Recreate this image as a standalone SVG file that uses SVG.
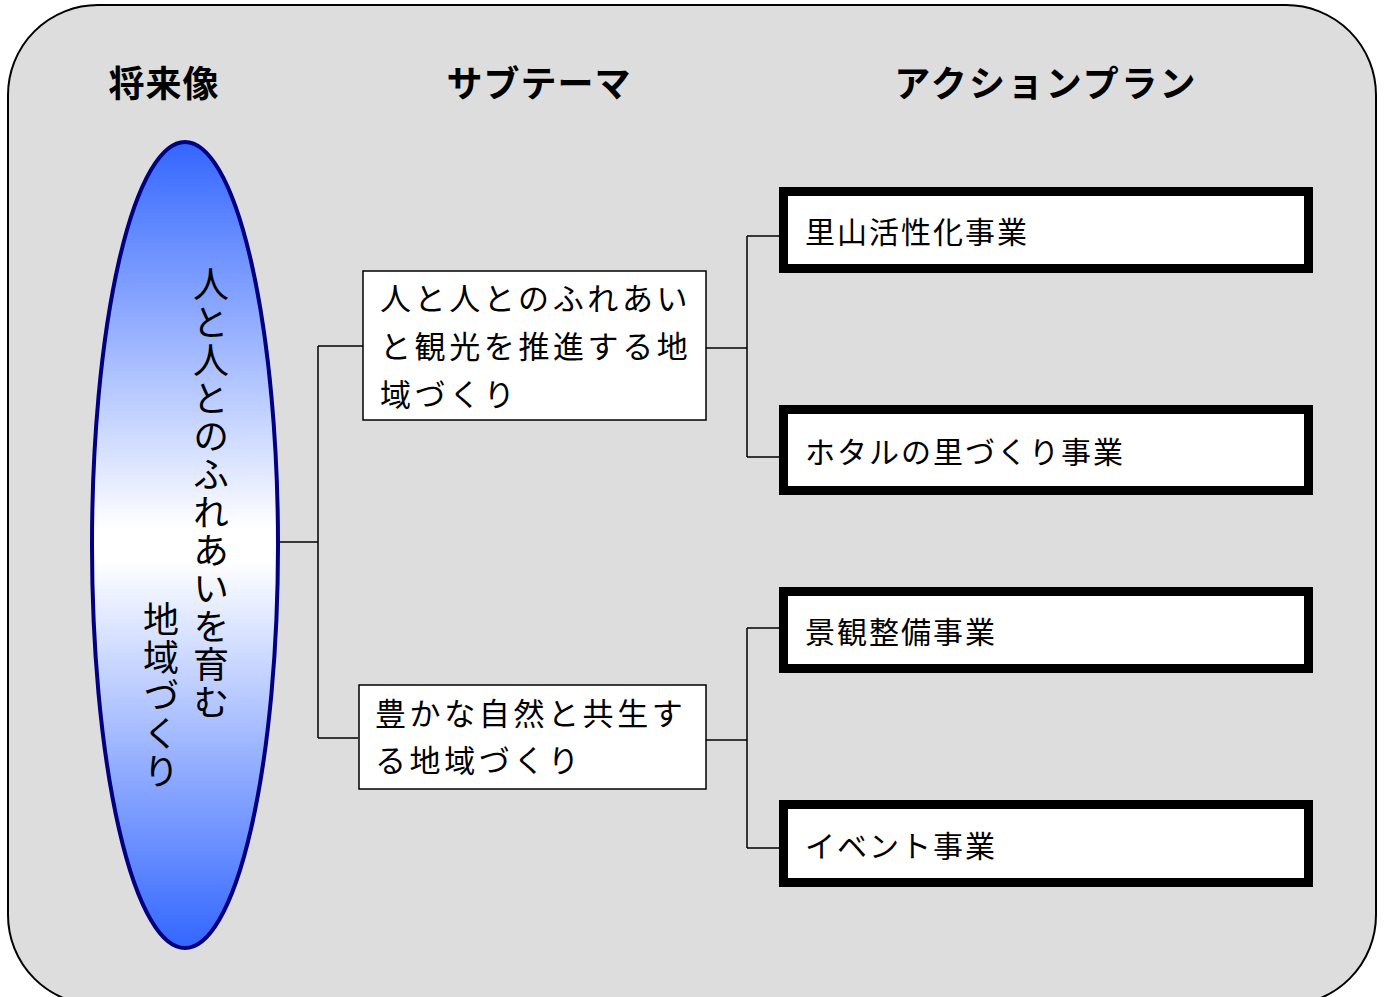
<svg xmlns="http://www.w3.org/2000/svg" width="1386" height="997" viewBox="0 0 1386 997">
<defs>
<linearGradient id="ellGrad" x1="0" y1="0" x2="0" y2="1">
<stop offset="0" stop-color="#3366ff"/>
<stop offset="0.48" stop-color="#ffffff"/>
<stop offset="0.52" stop-color="#ffffff"/>
<stop offset="1" stop-color="#3366ff"/>
</linearGradient>
<style>
.hdr{font-family:"Noto Sans CJK JP","Noto Sans",sans-serif;font-weight:bold;font-size:36px;fill:#000;text-anchor:middle}
.txt{font-family:"Noto Sans CJK JP","Noto Sans",sans-serif;font-size:31px;fill:#000;letter-spacing:3.6px}
.act{font-family:"Noto Sans CJK JP","Noto Sans",sans-serif;font-size:30px;fill:#000;letter-spacing:2px}
.vt{font-family:"Noto Sans CJK JP","Noto Sans",sans-serif;font-size:36px;fill:#000;writing-mode:vertical-rl;letter-spacing:2px}
.sub{fill:#fff;stroke:#000;stroke-width:1.5}
.actbox{fill:#fff;stroke:#000;stroke-width:9}
.conn{fill:none;stroke:#000;stroke-width:1.5}
</style>
</defs>
<rect id="background" x="8" y="5" width="1368" height="1000" rx="90" ry="90" fill="#dddddd" stroke="#000" stroke-width="2"/>
<g id="headers">
<text class="hdr" x="164" y="97" style="letter-spacing:1px">将来像</text>
<text class="hdr" x="539" y="97" style="letter-spacing:1px">サブテーマ</text>
<text class="hdr" x="1046" y="97" style="letter-spacing:2.3px">アクションプラン</text>
</g>
<g id="connectors">
<path class="conn" d="M278,542 H318 M318,346 V738 M318,346 H363 M318,738 H358"/>
<path class="conn" d="M706,348 H747 M747,236 V457 M747,236 H780 M747,457 H780"/>
<path class="conn" d="M706,740 H747 M747,628 V848 M747,628 H780 M747,848 H780"/>
</g>
<g id="vision">
<ellipse cx="185" cy="545" rx="93" ry="403" fill="url(#ellGrad)" stroke="#000080" stroke-width="4"/>
<text class="vt" x="211" y="266">人と人とのふれあいを育む</text>
<text class="vt" x="161" y="601">地域づくり</text>
</g>
<g id="sub1">
<rect class="sub" x="363" y="271" width="343" height="149"/>
<text class="txt" x="380" y="310">人と人とのふれあい</text>
<text class="txt" x="380" y="358">と観光を推進する地</text>
<text class="txt" x="380" y="406">域づくり</text>
</g>
<g id="sub2">
<rect class="sub" x="359" y="685" width="347" height="104"/>
<text class="txt" x="375" y="725">豊かな自然と共生す</text>
<text class="txt" x="375" y="772">る地域づくり</text>
</g>
<g id="act1">
<rect class="actbox" x="783.5" y="191.5" width="525" height="77"/>
<text class="act" x="805" y="243">里山活性化事業</text>
</g>
<g id="act2">
<rect class="actbox" x="783.5" y="409.5" width="525" height="81"/>
<text class="act" x="805" y="463">ホタルの里づくり事業</text>
</g>
<g id="act3">
<rect class="actbox" x="783.5" y="591.5" width="525" height="77"/>
<text class="act" x="805" y="643">景観整備事業</text>
</g>
<g id="act4">
<rect class="actbox" x="783.5" y="804.5" width="525" height="78"/>
<text class="act" x="805" y="857">イベント事業</text>
</g>
</svg>
